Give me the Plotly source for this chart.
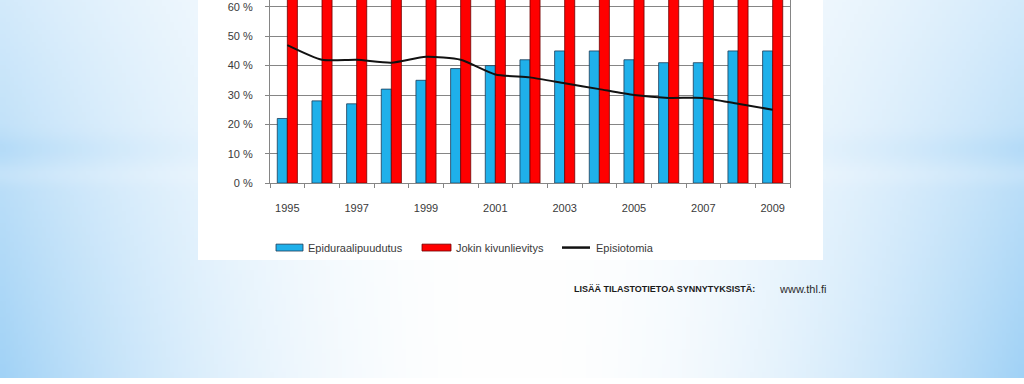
import base64
import struct
import zlib

import numpy as np
import plotly.graph_objects as go

# ---------------- data ----------------
years = list(range(1995, 2010))
epidural = [22, 28, 27, 32, 35, 39, 40, 42, 45, 45, 42, 41, 41, 45, 45]
pain_relief = [79, 81, 82, 83, 84, 85, 85, 86, 87, 88, 88, 88, 89, 89, 90]
episiotomy = [47, 42, 42, 41, 43, 42, 37, 36, 34, 32, 30, 29, 29, 27, 25]
tick_years = [1995, 1997, 1999, 2001, 2003, 2005, 2007, 2009]
y_ticks = [0, 10, 20, 30, 40, 50, 60]
y_tick_labels = [f"{v} %" for v in y_ticks]
series_names = ["Epiduraalipuudutus", "Jokin kivunlievitys", "Episiotomia"]
footer_left = "LISÄÄ TILASTOTIETOA SYNNYTYKSISTÄ:"
footer_right = "www.thl.fi"

W, H = 1024, 384


def px(x):
    return x / W


def py(y):
    return 1 - y / H


# ---------------- slide background (gradient png) ----------------
def make_png(arr):
    h, w, _ = arr.shape
    raw = b"".join(b"\x00" + arr[i].tobytes() for i in range(h))

    def chunk(tag, data):
        return (struct.pack(">I", len(data)) + tag + data
                + struct.pack(">I", zlib.crc32(tag + data) & 0xFFFFFFFF))

    return (b"\x89PNG\r\n\x1a\n"
            + chunk(b"IHDR", struct.pack(">IIBBBBB", w, h, 8, 2, 0, 0, 0))
            + chunk(b"IDAT", zlib.compress(raw, 9))
            + chunk(b"IEND", b""))


gw, gh = 256, 96
xs = (np.arange(gw) + 0.5) / gw
ys = (np.arange(gh) + 0.5) / gh
X, Y = np.meshgrid(xs, ys)
dx = np.abs(X - 0.5) * 2
yy = Y * H
edge = 0.42 + 0.48 * Y
band = 0.10 * np.exp(-((yy - 150) / 14) ** 2) - 0.08 * np.exp(-((yy - 178) / 10) ** 2)
w = dx ** 2.0 * (edge + band)
w = np.clip(w, 0, 1)
blue = np.array([150, 205, 245], dtype=float)
img = 255 - w[..., None] * (255 - blue[None, None, :])
img = np.clip(img, 0, 255).astype(np.uint8)
bg_src = "data:image/png;base64," + base64.b64encode(make_png(img)).decode()

# ---------------- figure ----------------
font_family = "Liberation Sans, Arial, sans-serif"
text_color = "#3a3a3a"
grid_color = "#858585"

fig = go.Figure()
fig.add_trace(go.Bar(
    x=years, y=epidural, name=series_names[0],
    marker=dict(color="#1fb0ea", line=dict(color="#1d3b57", width=0.8)),
))
fig.add_trace(go.Bar(
    x=years, y=pain_relief, name=series_names[1],
    marker=dict(color="#ff0000", line=dict(color="#6e0000", width=0.8)),
))
fig.add_trace(go.Scatter(
    x=years, y=episiotomy, name=series_names[2], mode="lines",
    line=dict(color="#111111", width=2, shape="spline", smoothing=0.6),
))

# custom legend
legend_y = 251.5
shapes = [
    dict(type="rect", xref="paper", yref="paper", x0=px(198), x1=px(823),
         y0=py(264), y1=1, fillcolor="white", line=dict(width=0), layer="below"),
    dict(type="rect", xref="paper", yref="paper", x0=px(276), x1=px(303),
         y0=py(255), y1=py(248), fillcolor="#1fb0ea",
         line=dict(color="#1d3b57", width=0.8)),
    dict(type="rect", xref="paper", yref="paper", x0=px(422), x1=px(451),
         y0=py(255), y1=py(248), fillcolor="#ff0000",
         line=dict(color="#6e0000", width=0.8)),
    dict(type="line", xref="paper", yref="paper", x0=px(562), x1=px(590),
         y0=py(legend_y), y1=py(legend_y), line=dict(color="#111111", width=2.5)),
]
legend_x = [306, 454, 594]
annotations = []
for name, lx in zip(series_names, legend_x):
    annotations.append(dict(
        text=name, xref="paper", yref="paper", x=px(lx), y=py(legend_y),
        xanchor="left", yanchor="middle", showarrow=False,
        font=dict(family=font_family, size=11, color=text_color),
    ))
annotations.append(dict(
    text=footer_left, xref="paper", yref="paper", x=px(572), y=py(294),
    xanchor="left", yanchor="middle", showarrow=False,
    font=dict(family=font_family, size=9, color="#1a1a1a", weight="bold"),
))
annotations.append(dict(
    text=footer_right, xref="paper", yref="paper", x=px(828), y=py(294),
    xanchor="right", yanchor="middle", showarrow=False,
    font=dict(family=font_family, size=11, color="#2a2a2a"),
))

fig.update_layout(
    width=W, height=H,
    margin=dict(l=0, r=0, t=0, b=0),
    paper_bgcolor="white", plot_bgcolor="white",
    barmode="group", bargap=0.42, bargroupgap=0,
    showlegend=False,
    images=[dict(source=bg_src, xref="paper", yref="paper", x=0, y=1,
                 sizex=1, sizey=1, xanchor="left", yanchor="top",
                 sizing="stretch", layer="below")],
    shapes=shapes,
    annotations=annotations,
    xaxis=dict(
        domain=[px(270), px(790)], range=[1994.5, 2009.5],
        tickmode="array", tickvals=tick_years, ticktext=[str(t) for t in tick_years],
        ticks="", showgrid=False, zeroline=False,
        showline=True, linecolor=grid_color, linewidth=1,
        minor=dict(tickmode="array", tickvals=[y - 0.5 for y in years] + [years[-1] + 0.5],
                   ticks="outside", ticklen=4, tickcolor=grid_color, showgrid=False),
        tickfont=dict(family=font_family, size=11, color=text_color),
        ticklabelstandoff=15,
    ),
    yaxis=dict(
        domain=[py(186), 1], range=[0, 62.35],
        tickmode="array", tickvals=y_ticks, ticktext=y_tick_labels,
        ticks="outside", ticklen=4, tickcolor=grid_color,
        showgrid=True, gridcolor=grid_color, gridwidth=1, zeroline=False,
        showline=True, mirror=True, linecolor=grid_color, linewidth=1,
        tickfont=dict(family=font_family, size=11, color=text_color),
        ticklabelstandoff=10,
    ),
)

fig.write_html("out.html", config={"displayModeBar": False, "staticPlot": True},
               post_script="document.body.style.margin='0';")
